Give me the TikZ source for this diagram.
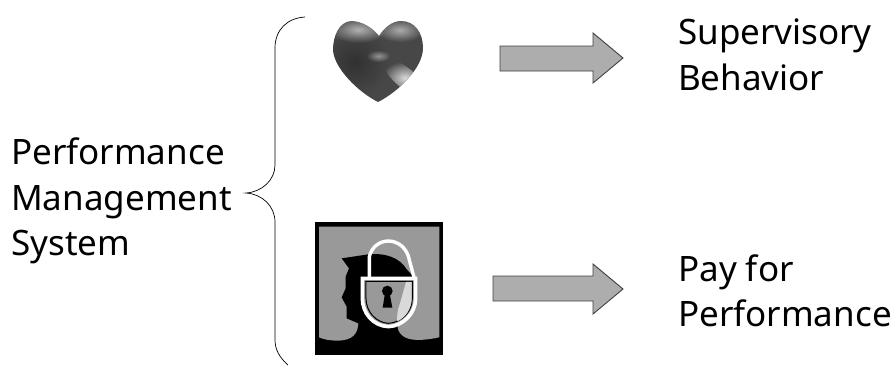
\documentclass[tikz,border=0pt]{standalone}
\usepackage{fontspec}
\setmainfont{Noto Sans}
\usetikzlibrary{fadings}
\tikzfading[name=softspot, inner color=transparent!0, outer color=transparent!100]
\tikzset{
  lbl/.style={anchor=base west, inner sep=0pt, font=\fontsize{35pt}{40pt}\selectfont, text=black},
  blockarrow/.style={draw=black!75, line width=.9pt, fill=black!32, line join=miter},
  bracket/.style={draw=black, line width=.7pt},
  glint/.style={fill=white, path fading=softspot},
  dimspot/.style={fill=black, path fading=softspot}
}
\begin{document}
\begin{tikzpicture}[x=1pt,y=-1pt]
\useasboundingbox (0,0) rectangle (895,365);
% labels
\node[lbl] (pm1) at (11,164) {Performance};
\node[lbl] (pm2) at (11,210) {Management};
\node[lbl] (pm3) at (11,255) {System};
\node[lbl] (sb1) at (678,44) {Supervisory};
\node[lbl] (sb2) at (678,90) {Behavior};
\node[lbl] (pp1) at (678,281) {Pay for};
\node[lbl] (pp2) at (678,326) {Performance};
% brace
\coordinate (bt) at (305,17);
\coordinate (bm) at (246,193);
\coordinate (bb) at (288,365);
\draw[bracket] (bt) .. controls (287,18) and (275,30) .. (275,48) -- (275,165)
   .. controls (275,180) and (262,192) .. (bm)
   .. controls (262,194) and (275,206) .. (275,222) -- (275,340)
   .. controls (275,350) and (280,358) .. (bb);
% arrows
\draw[blockarrow] (500,46) -- (593,46) -- (593,33) -- (623,58) -- (593,83) -- (593,71) -- (500,71) -- cycle;
\draw[blockarrow] (493,276) -- (593,276) -- (593,264) -- (623,289) -- (593,314) -- (593,301) -- (493,301) -- cycle;
% heart
\begin{scope}
\path[clip] (379,36) .. controls (373,28) and (362,21) .. (351,21)
  .. controls (339,22) and (333,36) .. (333,50)
  .. controls (334,68) and (358,92) .. (378,102)
  .. controls (398,92) and (423,68) .. (423,48)
  .. controls (423,33) and (415,21) .. (401,21)
  .. controls (392,21) and (384,28) .. (379,36) -- cycle;
\fill[black!72] (330,18) rectangle (426,105);
\fill[glint,opacity=.6] (358,30) ellipse (28 and 13);
\fill[glint,opacity=.55] (400,30) ellipse (24 and 12);
\fill[glint,opacity=.5] (378,56) ellipse (12 and 6);
\fill[glint,opacity=.8,rotate around={-40:(405,78)}] (405,78) ellipse (26 and 10);
\fill[dimspot,opacity=.3] (355,62) ellipse (34 and 34);
\end{scope}
% lock picture
\begin{scope}[shift={(300,210)},x=.3333pt,y=-.3333pt]
\fill[black] (45,37) rectangle (430,435);
\fill[black!40] (57,50) -- (418,50) -- (418,382)
  .. controls (370,392) and (325,395) .. (305,375) .. controls (295,365) and (292,355) .. (292,340)
  -- (175,335) .. controls (175,370) and (160,392) .. (110,392)
  .. controls (90,392) and (70,388) .. (57,382) -- cycle;
% head silhouette
\fill[black] (125,145) -- (205,133) .. controls (260,128) and (300,145) .. (320,178)
  -- (345,205) -- (345,270) -- (292,345) -- (175,340) -- (140,325) -- (140,290)
  -- (125,262) -- (137,235) -- (137,200) -- (147,175) -- cycle;
% lock body
\path[fill=black!40, draw=white, line width=3.6pt] (187,205) -- (347,205) -- (347,265)
  .. controls (347,310) and (310,348) .. (265,350)
  .. controls (220,348) and (187,310) .. (187,265) -- cycle;
\draw[black, line width=1pt] (198,214) -- (337,214) -- (337,265)
  .. controls (337,305) and (305,338) .. (265,340)
  .. controls (228,338) and (198,305) .. (198,265) -- cycle;
\fill[black!15] (318,216) -- (335,216) -- (335,265) .. controls (335,295) and (318,322) .. (292,334)
  .. controls (290,320) and (292,300) .. (300,280) -- cycle;
% keyhole
\fill[black] (262,243) circle (16);
\fill[black] (255,250) -- (269,250) -- (277,293) -- (248,293) -- cycle;
% shackle
\draw[white, line width=3.4pt] (208,205) -- (208,140) .. controls (215,110) and (240,93) .. (265,93)
  .. controls (295,93) and (322,115) .. (328,150) -- (343,205);
\end{scope}
\end{tikzpicture}
\end{document}
